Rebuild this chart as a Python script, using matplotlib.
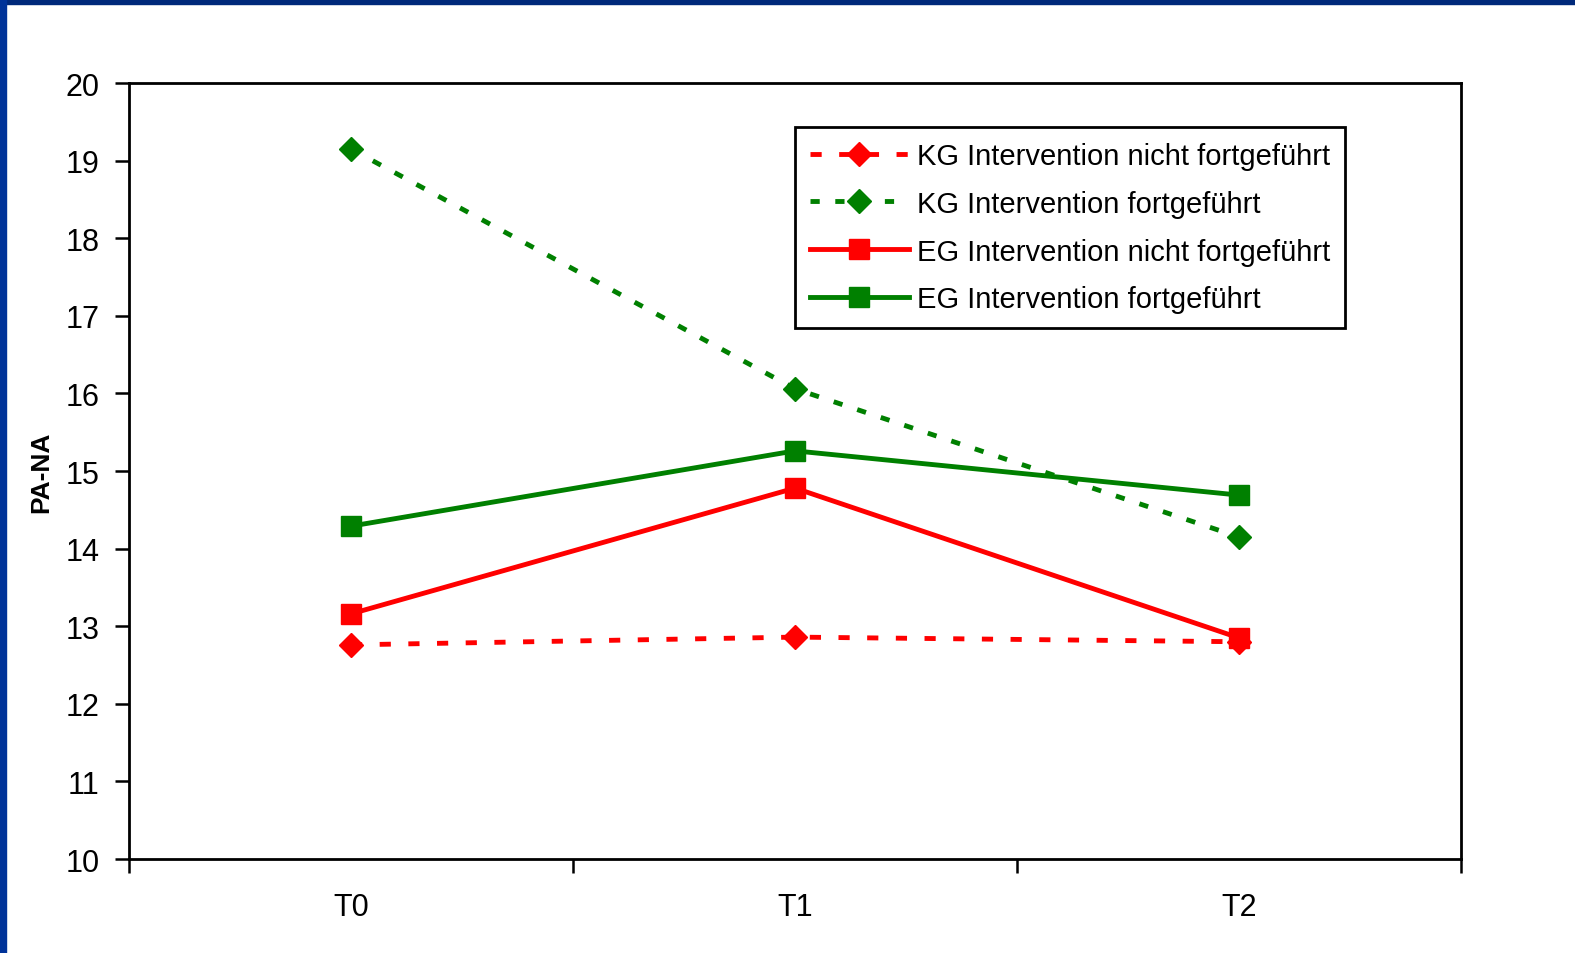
import matplotlib
matplotlib.use("Agg")
import matplotlib.pyplot as plt
from matplotlib.patches import Rectangle

plt.rcParams["font.family"] = ["Liberation Sans", "DejaVu Sans"]

# Measurement points and group means (PA minus NA)
timepoints = ["T0", "T1", "T2"]
kg_nicht = [12.76, 12.86, 12.80]
kg_fort = [19.15, 16.06, 14.15]
eg_nicht = [13.16, 14.78, 12.85]
eg_fort = [14.29, 15.26, 14.69]

labels = [
    "KG Intervention nicht fortgeführt",
    "KG Intervention fortgeführt",
    "EG Intervention nicht fortgeführt",
    "EG Intervention fortgeführt",
]

red = "#ff0000"
green = "#008000"

fig = plt.figure(figsize=(15.75, 9.54), dpi=100)
ax = fig.add_axes([0.0819, 0.0985, 0.8457, 0.8134])

x = [0.5, 1.5, 2.5]

ax.plot(x, kg_nicht, color=red, lw=3.5, dashes=(2.3, 3.6), marker="D",
        markersize=12, label=labels[0])
ax.plot(x, kg_fort, color=green, lw=3.5, dashes=(1.9, 3.2), marker="D",
        markersize=12, label=labels[1])
ax.plot(x, eg_nicht, color=red, lw=3.5, marker="s", markersize=14,
        label=labels[2])
ax.plot(x, eg_fort, color=green, lw=3.5, marker="s", markersize=14,
        label=labels[3])

ax.set_xlim(0, 3)
ax.set_ylim(10, 20)
ax.set_yticks(range(10, 21))

# category labels sit between the major tick marks
ax.set_xticks([0, 1, 2, 3])
ax.set_xticklabels([])
ax.set_xticks(x, minor=True)
ax.set_xticklabels(timepoints, minor=True)
ax.tick_params(axis="x", which="major", direction="out", length=10, width=1.8)
ax.tick_params(axis="x", which="minor", length=0, pad=24, labelsize=22)
ax.tick_params(axis="y", direction="out", length=10, width=1.8, pad=11,
               labelsize=22)

for sp in ax.spines.values():
    sp.set_linewidth(2)
    sp.set_color("black")

ax.set_ylabel("PA-NA", fontsize=19, fontweight="bold", labelpad=9)

leg = ax.legend(loc="upper left", bbox_to_anchor=(0.5, 0.943), fontsize=21,
                frameon=True, fancybox=False, edgecolor="black",
                framealpha=1, handlelength=3.4, handletextpad=0.3,
                borderpad=0.5, labelspacing=0.68, numpoints=1,
                borderaxespad=0)
leg.get_frame().set_linewidth(2)

# dark blue frame along the top and left edges
fig.patches.append(Rectangle((0, 1 - 5 / 954), 1, 5 / 954,
                             transform=fig.transFigure, color="#00297a",
                             zorder=10))
fig.patches.append(Rectangle((0, 0), 6 / 1575, 1,
                             transform=fig.transFigure, color="#003399",
                             zorder=10))

fig.savefig("out.png", dpi=100)
